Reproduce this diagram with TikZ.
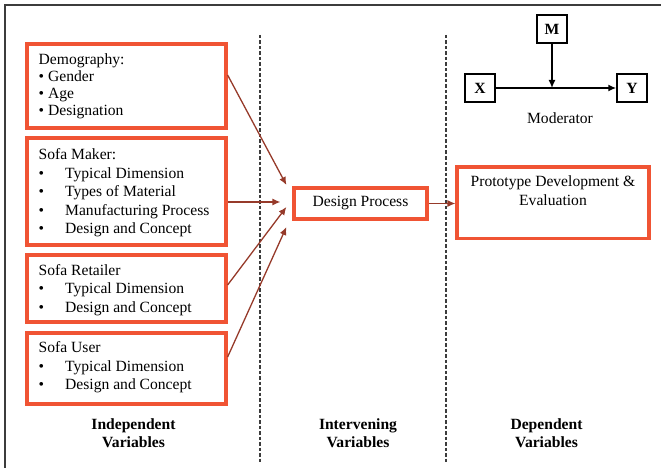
\documentclass[tikz,border=0pt]{standalone}
\usepackage{fontspec}
\setmainfont{Liberation Serif}
\usetikzlibrary{arrows.meta}
\definecolor{boxred}{RGB}{240,84,52}
\definecolor{flowred}{RGB}{150,58,42}
\definecolor{divider}{RGB}{60,60,60}
\newcommand\firstln{\rule{0pt}{12pt}}
\newcommand\itm[1]{\makebox[26.5pt][l]{•}#1}

\begin{document}
\begin{tikzpicture}[x=1pt,y=-1pt,
  redbox/.style={draw=boxred, line width=3.2pt, inner sep=0pt},
  blkbox/.style={draw=black, line width=1.5pt, inner sep=0pt, minimum width=30pt,
                 minimum height=28pt, font=\fontsize{15.6}{18}\selectfont\bfseries},
  body/.style={inner sep=0pt, anchor=north west, align=left,
               font=\fontsize{15.6}{18.5}\selectfont},
  heading/.style={inner sep=0pt, anchor=north, align=center,
                  font=\fontsize{15.6}{18}\selectfont\bfseries},
  flow/.style={draw=flowred, line width=1.3pt, -{Latex[length=8pt,width=7pt]}},
  link/.style={draw=black, line width=1.5pt, -{Latex[length=8pt,width=7pt]}},
  divide/.style={draw=divider, line width=1.6pt, dash pattern=on 3.5pt off 2pt},
]
\useasboundingbox (0,0) rectangle (661,468);

% frame
\draw[line width=1.6pt, draw=divider] (5,468) -- (5,5) -- (661,5);

% column dividers
\coordinate (d1top) at (260,35);
\coordinate (d1bot) at (260,462);
\coordinate (d2top) at (446,35);
\coordinate (d2bot) at (446,462);
\draw[divide] (d1top) -- (d1bot);
\draw[divide] (d2top) -- (d2bot);

% independent variables
\node[redbox, minimum width=199pt, minimum height=84pt] (demo) at (126.5,86) {};
\node[redbox, minimum width=199pt, minimum height=107pt] (maker) at (126.5,191.5) {};
\node[redbox, minimum width=199pt, minimum height=67pt] (retail) at (126.5,288.5) {};
\node[redbox, minimum width=199pt, minimum height=71pt] (user) at (126.5,368.5) {};

\node[body, font=\fontsize{15.6}{17.2}\selectfont] (demotxt) at (38.5,52)
  {\firstln Demography:\\• Gender\\• Age\\• Designation};
\node[body] (makertxt) at (38.5,147.5)
  {\firstln Sofa Maker:\\\itm{Typical Dimension}\\\itm{Types of Material}\\
   \itm{Manufacturing Process}\\\itm{Design and Concept}};
\node[body] (retailtxt) at (38.5,263)
  {\firstln Sofa Retailer\\\itm{Typical Dimension}\\\itm{Design and Concept}};
\node[body] (usertxt) at (38.5,340.5)
  {\firstln Sofa User\\\itm{Typical Dimension}\\\itm{Design and Concept}};

% intervening variable
\node[redbox, minimum width=133pt, minimum height=31pt,
      font=\fontsize{15.6}{18.5}\selectfont] (design) at (360.5,203.5) {Design Process};

% dependent variable
\node[redbox, minimum width=192pt, minimum height=71.5pt] (proto) at (553,202.75) {};
\node[body, anchor=north, align=center] (prototxt) at (553,174.5)
  {\firstln Prototype Development \&\\Evaluation};

% arrows into the design process
\coordinate (t1) at ([xshift=-6pt,yshift=18.5pt]design.west);
\coordinate (t2) at ([xshift=-12pt,yshift=1.5pt]design.west);
\coordinate (t3) at ([xshift=-6pt,yshift=-3.5pt]design.west);
\coordinate (t4) at ([xshift=-6pt,yshift=-23.5pt]design.west);
\draw[flow] ([yshift=11pt]demo.east) -- (t1);
\draw[flow] (maker.east |- t2) -- (t2);
\draw[flow] ([yshift=3.5pt]retail.east) -- (t3);
\draw[flow] ([yshift=11.5pt]user.east) -- (t4);
\draw[flow] (design.east) -- (design.east -| proto.west);

% moderator sketch
\node[blkbox] (M) at (552,29) {M};
\node[blkbox] (X) at (480,88) {X};
\node[blkbox] (Y) at (632,88) {Y};
\draw[link] (X) -- (Y);
\draw[link] (M.south) -- (M.south |- X.east);
\node[inner sep=0pt, anchor=base, font=\fontsize{15.6}{18}\selectfont] (modlabel) at (560,124) {Moderator};

% column headings
\node[heading] (hind) at (133.5,417) {\firstln Independent\\Variables};
\node[heading] (hint) at (358,417) {\firstln Intervening\\Variables};
\node[heading] (hdep) at (546.5,417) {\firstln Dependent\\Variables};
\end{tikzpicture}
\end{document}
